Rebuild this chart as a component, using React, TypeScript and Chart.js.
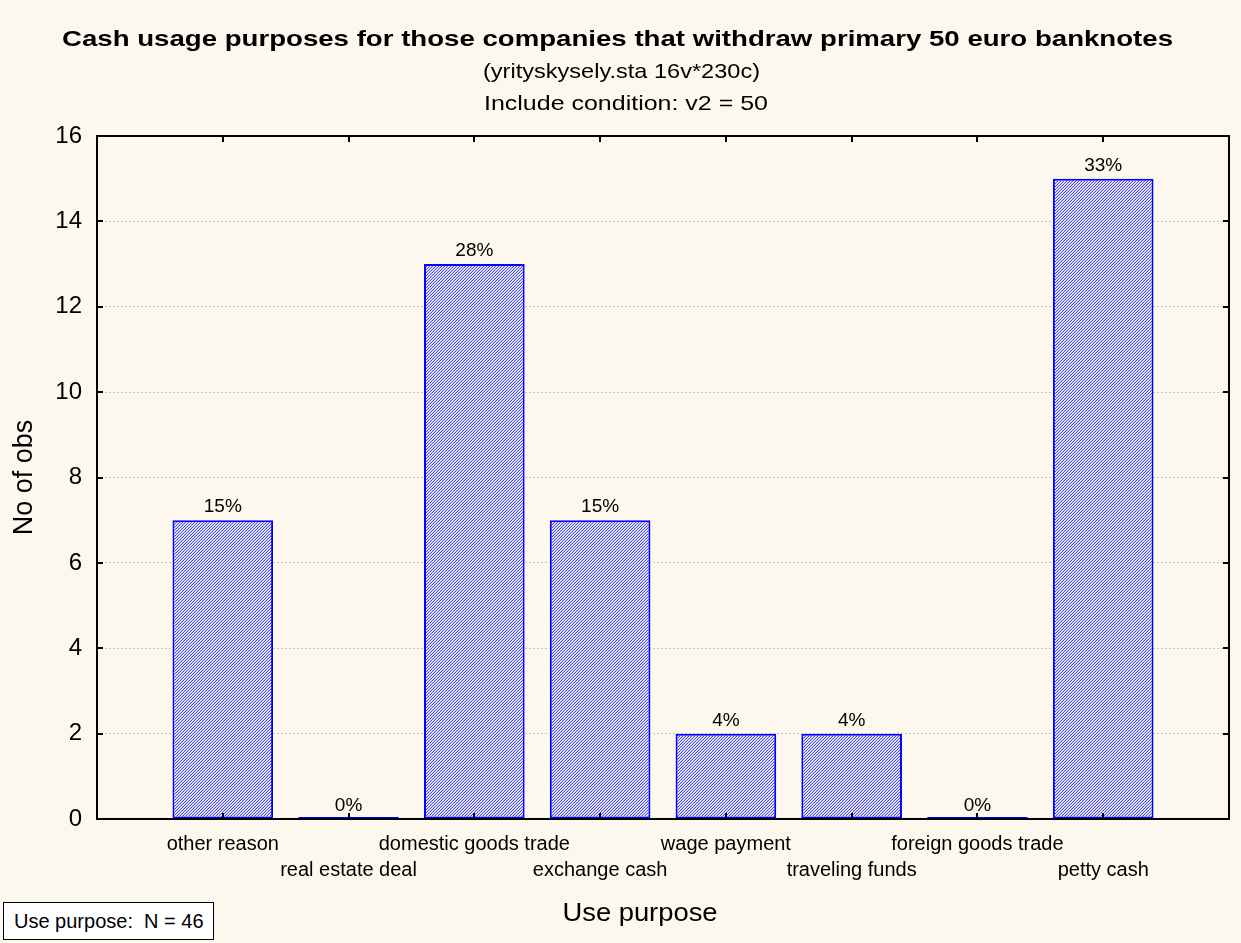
import React, { useEffect, useRef } from "react";
import { Chart, registerables } from "chart.js";

Chart.register(...registerables);

const categories = [
  "other reason",
  "real estate deal",
  "domestic goods trade",
  "exchange cash",
  "wage payment",
  "traveling funds",
  "foreign goods trade",
  "petty cash",
];
const counts = [7, 0, 13, 7, 2, 2, 0, 15];
const totalN = 46;
const yTicks = [0, 2, 4, 6, 8, 10, 12, 14, 16];
const titleLines = [
  "Cash usage purposes for those companies that withdraw primary 50 euro banknotes",
  "(yrityskysely.sta 16v*230c)",
  "Include condition: v2 = 50",
];
const xAxisTitle = "Use purpose";
const yAxisTitle = "No of obs";
const noteText = "Use purpose:  N = 46";

const FONT = "Arial, 'Liberation Sans', sans-serif";

function makePattern(): CanvasPattern | string {
  const c = document.createElement("canvas");
  c.width = 3;
  c.height = 3;
  const g = c.getContext("2d");
  if (!g) return "#9a9af0";
  g.fillStyle = "#ffffff";
  g.fillRect(0, 0, 3, 3);
  for (let x = 0; x < 3; x++) {
    for (let y = 0; y < 3; y++) {
      const m = (x + y) % 3;
      if (m === 2) {
        g.fillStyle = "#4848ff";
        g.fillRect(x, y, 1, 1);
      } else if (m === 1) {
        g.fillStyle = "#c4c4ff";
        g.fillRect(x, y, 1, 1);
      }
    }
  }
  const p = g.createPattern(c, "repeat");
  return p || "#9a9af0";
}

function drawFit(ctx: CanvasRenderingContext2D, text: string, cx: number, cy: number, targetW: number) {
  const w = ctx.measureText(text).width;
  const sx = w > 0 ? targetW / w : 1;
  ctx.save();
  ctx.translate(cx, cy);
  ctx.scale(sx, 1);
  ctx.fillText(text, 0, 0);
  ctx.restore();
}

const decorPlugin = {
  id: "decor",
  afterDraw(chart: any) {
    const { ctx, chartArea } = chart;
    const { left, right, top, bottom } = chartArea;
    const xs = chart.scales.x;
    const ys = chart.scales.y;
    ctx.save();
    // titles
    ctx.fillStyle = "#000";
    ctx.textAlign = "center";
    ctx.textBaseline = "middle";
    ctx.font = `bold 22px ${FONT}`;
    drawFit(ctx, titleLines[0], 617.5, 40, 1111);
    ctx.font = `21px ${FONT}`;
    drawFit(ctx, titleLines[1], 621.5, 72, 277);
    drawFit(ctx, titleLines[2], 626, 104, 284);

    // x axis title
    ctx.font = `26px ${FONT}`;
    drawFit(ctx, xAxisTitle, 640, 914, 155);

    // percent labels
    const meta = chart.getDatasetMeta(0);
    ctx.font = `19px ${FONT}`;
    ctx.textBaseline = "alphabetic";
    meta.data.forEach((bar: any, i: number) => {
      const pct = Math.round((counts[i] / totalN) * 100) + "%";
      const yTop = ys.getPixelForValue(counts[i]);
      ctx.fillText(pct, bar.x, yTop - 8);
    });

    // frame
    ctx.strokeStyle = "#000";
    ctx.lineWidth = 2;
    ctx.strokeRect(left, top, right - left, bottom - top);

    // inward ticks
    ctx.beginPath();
    yTicks.forEach((v) => {
      const py = Math.round(ys.getPixelForValue(v));
      ctx.moveTo(left, py);
      ctx.lineTo(left + 6, py);
      ctx.moveTo(right, py);
      ctx.lineTo(right - 6, py);
    });
    categories.forEach((_, i) => {
      const px = Math.round(xs.getPixelForValue(i + 1));
      ctx.moveTo(px, bottom);
      ctx.lineTo(px, bottom - 6);
      ctx.moveTo(px, top);
      ctx.lineTo(px, top + 6);
    });
    ctx.stroke();
    ctx.restore();
  },
};

export default function App() {
  const ref = useRef<HTMLCanvasElement | null>(null);

  useEffect(() => {
    if (!ref.current) return;
    const pattern = makePattern();
    const chart = new Chart(ref.current, {
      type: "bar",
      data: {
        datasets: [
          {
            data: counts.map((v, i) => ({ x: i + 1, y: v })),
            backgroundColor: pattern as any,
            borderColor: "#0000ff",
            borderWidth: 2,
            borderSkipped: false,
            minBarLength: 2,
            barPercentage: 0.8,
            categoryPercentage: 1,
          },
        ],
      },
      options: {
        animation: false,
        responsive: false,
        maintainAspectRatio: false,
        layout: { padding: { top: 136, right: 11, left: 0, bottom: 0 } },
        plugins: {
          legend: { display: false },
          tooltip: { enabled: false },
          title: { display: false },
        },
        scales: {
          x: {
            type: "linear",
            min: 0,
            max: 9,
            offset: false,
            grid: { display: false, drawTicks: false },
            border: { display: false },
            ticks: {
              stepSize: 1,
              autoSkip: false,
              maxRotation: 0,
              minRotation: 0,
              padding: 12,
              color: "#000",
              font: { family: FONT, size: 20, lineHeight: 1.3 },
              callback: (value: any) => {
                const idx = Number(value) - 1;
                if (idx < 0 || idx >= categories.length) return "";
                return idx % 2 === 0 ? categories[idx] : ["", categories[idx]];
              },
            },
            title: { display: false },
            afterFit: (scale: any) => {
              scale.height = 124;
            },
          },
          y: {
            min: 0,
            max: 16,
            grid: { color: "#c4c4c4", lineWidth: 1, drawTicks: false },
            border: { display: false, dash: [2, 2] },
            ticks: {
              stepSize: 2,
              padding: 15,
              color: "#000",
              font: { family: FONT, size: 24 },
            },
            title: {
              display: true,
              text: yAxisTitle,
              color: "#000",
              font: { family: FONT, size: 27, lineHeight: 1.2 },
              padding: { top: 8, bottom: 0 },
            },
            afterFit: (scale: any) => {
              scale.width = 97;
            },
          },
        },
      },
      plugins: [decorPlugin],
    });
    return () => chart.destroy();
  }, []);

  return (
    <div
      style={{
        position: "absolute",
        left: 0,
        top: 0,
        width: 1241,
        height: 943,
        background: "#fdf8ee",
        overflow: "hidden",
      }}
    >
      <canvas ref={ref} width={1241} height={943} style={{ display: "block" }} />
      <div
        style={{
          position: "absolute",
          left: 3,
          top: 902,
          width: 211,
          height: 38,
          border: "1px solid #000",
          background: "#fff",
          fontFamily: FONT,
          fontSize: 20,
          lineHeight: "36px",
          paddingLeft: 10,
          boxSizing: "border-box",
          whiteSpace: "pre",
          color: "#000",
        }}
      >
        {noteText}
      </div>
    </div>
  );
}
